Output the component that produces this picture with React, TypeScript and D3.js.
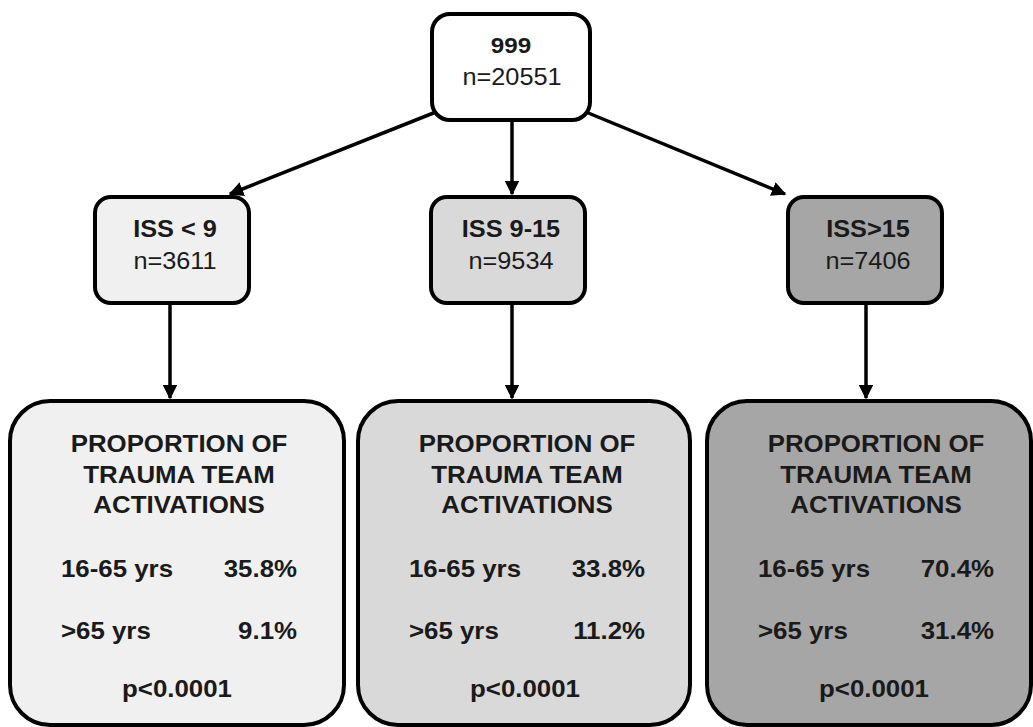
import * as d3 from "d3";

const groups = ["ISS < 9", "ISS 9-15", "ISS>15"];
const groupN = [3611, 9534, 7406];
const rootLabel = "999";
const rootN = 20551;
const ageLabels = ["16-65 yrs", ">65 yrs"];
const youngPct = [35.8, 33.8, 70.4];
const oldPct = [9.1, 11.2, 31.4];
const pValues = ["p<0.0001", "p<0.0001", "p<0.0001"];
const headingLines = ["PROPORTION OF", "TRAUMA TEAM", "ACTIVATIONS"];
const fills = ["#f0f0f0", "#d9d9d9", "#a6a6a6"];

const W = 1033;
const H = 727;
const font = "'Liberation Sans', Arial, sans-serif";
const ink = "#1a1a1a";
const sx = 1.1; // the source text is a little wider than Arial

function T({ x, y, anchor = "start", size, bold = false, children }: any) {
	return (
		<text
			transform={`translate(${x},${y}) scale(${sx},1)`}
			textAnchor={anchor}
			fontSize={size}
			fontWeight={bold ? "bold" : "normal"}
			fill={ink}
		>
			{children}
		</text>
	);
}

function App() {
	// centres of the middle row, left edges / widths of the bottom row
	const midX = d3.scaleOrdinal<string, number>().domain(groups).range([172, 508, 865]);
	const botX0 = d3.scaleOrdinal<string, number>().domain(groups).range([10, 358, 707]);
	const botW = d3.scaleOrdinal<string, number>().domain(groups).range([334, 332, 324]);
	const arrowX = d3.scaleOrdinal<string, number>().domain(groups).range([170, 512, 866]);

	const root = { cx: 511, y: 14, w: 158, h: 106 };
	const mid = { y: 197, w: 154, h: 106 };
	const bot = { y: 401, h: 324 };

	const line = d3.line();
	const diagArrows: [number, number][][] = [
		[[root.cx - 70, root.y + root.h - 10], [midX(groups[0]) + 58, mid.y - 3]],
		[[root.cx + 1, root.y + root.h], [root.cx + 1, mid.y - 3]],
		[[root.cx + 70, root.y + root.h - 10], [midX(groups[2]) - 80, mid.y - 3]],
	];

	return (
		<svg width={W} height={H} style={{ position: "absolute", left: 0, top: 0, background: "#fff" }} fontFamily={font}>
			<defs>
				<marker id="arr" viewBox="0 0 10 10" refX="9" refY="5" markerWidth="4.2" markerHeight="4.2" orient="auto" markerUnits="strokeWidth">
					<path d="M0,0 L10,5 L0,10 z" fill="#000" />
				</marker>
			</defs>

			{diagArrows.map((pts, i) => (
				<path key={"d" + i} d={line(pts) as string} stroke="#000" strokeWidth={3.5} fill="none" markerEnd="url(#arr)" />
			))}
			{groups.map((g) => (
				<path
					key={"v" + g}
					d={line([[arrowX(g), mid.y + mid.h], [arrowX(g), bot.y - 3]]) as string}
					stroke="#000"
					strokeWidth={3.5}
					fill="none"
					markerEnd="url(#arr)"
				/>
			))}

			<rect x={root.cx - root.w / 2} y={root.y} width={root.w} height={root.h} rx={18} fill="#fff" stroke="#000" strokeWidth={4} />
			<T x={root.cx} y={53} anchor="middle" size={22} bold>{rootLabel}</T>
			<T x={root.cx + 1} y={85} anchor="middle" size={23}>n={rootN}</T>

			{groups.map((g, i) => {
				const cx = midX(g);
				return (
					<g key={"m" + g}>
						<rect x={cx - mid.w / 2} y={mid.y} width={mid.w} height={mid.h} rx={16} fill={fills[i]} stroke="#000" strokeWidth={4} />
						<T x={cx + 3} y={237} anchor="middle" size={23} bold>{g}</T>
						<T x={cx + 3} y={269} anchor="middle" size={23}>n={groupN[i]}</T>
					</g>
				);
			})}

			{groups.map((g, i) => {
				const x0 = botX0(g);
				const w = botW(g);
				const cx = x0 + 167;
				return (
					<g key={"b" + g}>
						<rect x={x0} y={bot.y} width={w} height={bot.h} rx={40} fill={fills[i]} stroke="#000" strokeWidth={4} />
						{headingLines.map((t, j) => (
							<T key={t} x={cx + 2} y={452 + j * 30.5} anchor="middle" size={23.5} bold>{t}</T>
						))}
						<T x={x0 + 51} y={577} size={23.5} bold>{ageLabels[0]}</T>
						<T x={x0 + 287} y={577} anchor="end" size={23.5} bold>{youngPct[i].toFixed(1)}%</T>
						<T x={x0 + 51} y={639} size={23.5} bold>{ageLabels[1]}</T>
						<T x={x0 + 287} y={639} anchor="end" size={23.5} bold>{oldPct[i].toFixed(1)}%</T>
						<T x={cx} y={697} anchor="middle" size={23.5} bold>{pValues[i]}</T>
					</g>
				);
			})}
		</svg>
	);
}

export default App;
